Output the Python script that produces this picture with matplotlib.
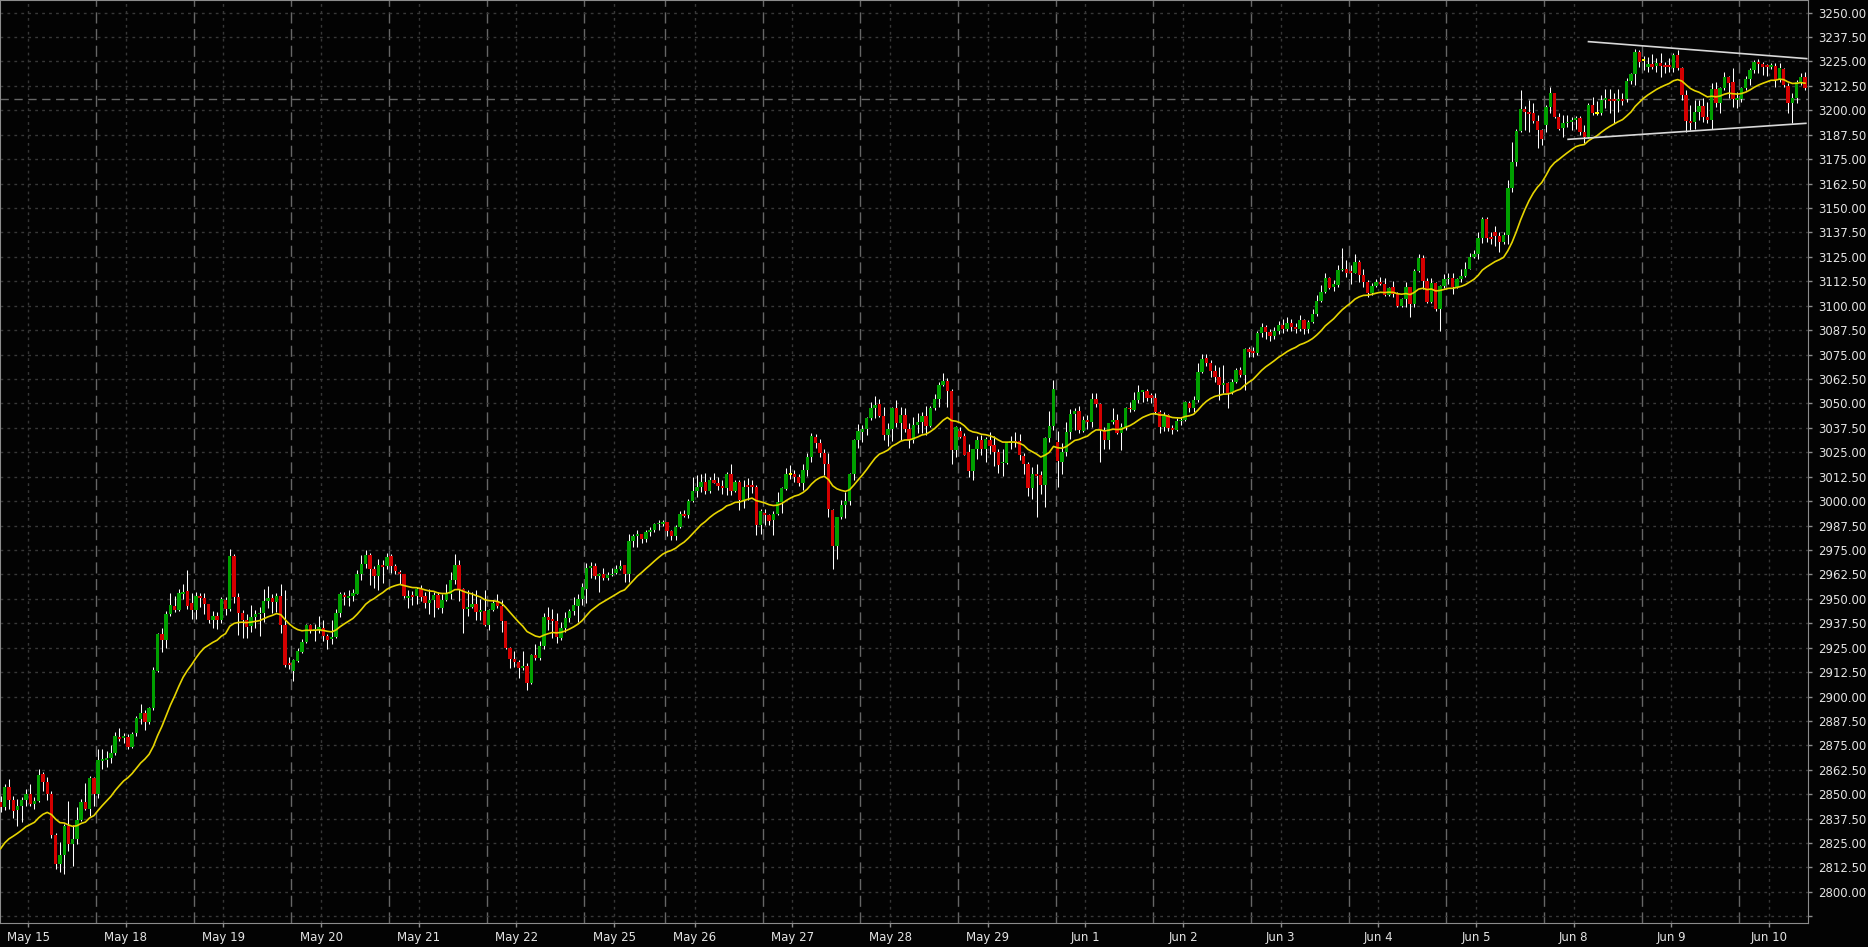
import matplotlib
matplotlib.use("Agg")
import matplotlib.pyplot as plt
import numpy as np
import pandas as pd

# hourly candles, sessions of 23 bars (May 25 short session, Jun 10 partial)
day_labels = ['May 15', 'May 18', 'May 19', 'May 20', 'May 21', 'May 22', 'May 25',
              'May 26', 'May 27', 'May 28', 'May 29', 'Jun 1', 'Jun 2', 'Jun 3',
              'Jun 4', 'Jun 5', 'Jun 8', 'Jun 9', 'Jun 10']
session_len = [23, 23, 23, 23, 23, 23, 19, 23, 23, 23, 23, 23, 23, 23, 23, 23, 23, 23, 16]

opens = [
    2846, 2843.5, 2853.5, 2847, 2842, 2844, 2847, 2850, 2845, 2846.5,
    2860.5, 2856, 2850, 2829, 2814.5, 2819, 2833.5, 2824.5, 2827, 2837,
    2846, 2842.5, 2858.5, 2850, 2867, 2867.5, 2868.5, 2871, 2879.5, 2879,
    2879.5, 2874, 2881.5, 2888.5, 2891.5, 2887, 2894, 2913, 2932, 2928.8,
    2942, 2946.5, 2944.5, 2952.5, 2953.8, 2947.8, 2944.5, 2951.3, 2950.6, 2947.2,
    2939.4, 2941, 2939.4, 2949.2, 2945, 2972, 2951, 2942.8, 2939, 2936,
    2940.7, 2942, 2942.6, 2948.7, 2950.6, 2948.4, 2951.3, 2936.5, 2917.2, 2913.1,
    2918.2, 2922.8, 2927.9, 2936.5, 2933.9, 2934, 2935, 2931, 2929.3, 2930.5,
    2942.9, 2951.8, 2950.5, 2951.3, 2952.7, 2962.6, 2968, 2972.3, 2965, 2961.7,
    2967.2, 2967, 2971.8, 2966.7, 2963.7, 2962.6, 2950.4, 2951.8, 2951.3, 2954.9,
    2951.3, 2947.9, 2949.2, 2951.8, 2945.5, 2949.6, 2952.7, 2959.8, 2967.2, 2955.2,
    2945, 2946, 2947.5, 2943.3, 2943.8, 2936.5, 2944.2, 2948.9, 2946.2, 2938.7,
    2924.9, 2919, 2917.7, 2914.6, 2915.5, 2907.1, 2921.1, 2919.9, 2925.7, 2940.7,
    2939.9, 2938.5, 2930, 2935.3, 2940.2, 2943.8, 2946.4, 2950.1, 2955, 2965.8,
    2966.9, 2961.6, 2962.9, 2960.7, 2962.1, 2963.3, 2965.1, 2967.2, 2962.6, 2979.5,
    2982, 2983.4, 2980.8, 2984.3, 2985.1, 2988.2, 2988.2, 2989.4, 2984.6, 2982,
    2986.5, 2993.6, 2992.8, 3000, 3005.1, 3007.3, 3009.8, 3005.1, 3010.7, 3009.5,
    3007.8, 3006.8, 3014.1, 3005.1, 3009.8, 3000.8, 3008.1, 3008.1, 3007.3, 2987.7,
    2994, 2992.8, 2990.2, 2993.6, 2999.6, 3006.4, 3013.8, 3013.8, 3012.4, 3009.3,
    3015.8, 3022.6, 3032.9, 3029.5, 3024.7, 3018.9, 2995.3, 2977.1, 2991.6, 2997.9,
    3000.1, 3014.1, 3031.2, 3035.4, 3037.1, 3042.3, 3047.7, 3049.6, 3043.5, 3033.7,
    3036.8, 3047.4, 3040, 3044, 3037.1, 3031.2, 3038.8, 3040.5, 3043.5, 3038.5,
    3047.7, 3052, 3059.3, 3061.4, 3056.4, 3026.1, 3036, 3033.2, 3025.2, 3015.3,
    3026.4, 3031.5, 3026.4, 3031.5, 3028.6, 3025.2, 3019.3, 3019.6, 3029.8, 3030.8,
    3030.8, 3023, 3018.9, 3006.8, 3013.8, 3013.3, 3008.1, 3032.4, 3038.3, 3030,
    3020.1, 3025.2, 3035.4, 3044.5, 3046, 3036, 3041.4, 3040.6, 3052, 3049.6,
    3036.3, 3031.2, 3040.6, 3041.7, 3034.9, 3038, 3047.7, 3046.4, 3051.7, 3055.9,
    3056.3, 3054.2, 3052.5, 3045.7, 3038, 3044, 3037.5, 3036.6, 3040.9, 3041.7,
    3050.3, 3047.4, 3051.7, 3066.1, 3073, 3070.4, 3066.7, 3063.6, 3059.3, 3060.5,
    3055.9, 3061, 3067, 3064.5, 3077.6, 3076.4, 3075.9, 3086, 3089, 3086.5,
    3084.5, 3087, 3090, 3088, 3091, 3089, 3087.8, 3092.9, 3088.3, 3091.7,
    3095.7, 3102.3, 3107, 3113.9, 3109.3, 3110.5, 3118.2, 3119, 3117.9, 3116.8,
    3122.4, 3115.6, 3112.2, 3106.3, 3110, 3112.2, 3111, 3105.4, 3109.3, 3105.9,
    3099.8, 3103.2, 3109.3, 3100.8, 3117.7, 3124.2, 3112.6, 3102, 3111.4, 3098.2,
    3110, 3113.4, 3113.9, 3109.3, 3113.4, 3115.1, 3119, 3124.7, 3126.4, 3134.8,
    3144.3, 3135.3, 3137.8, 3135.6, 3132.7, 3136.1, 3160, 3173.6, 3189.3, 3200.4,
    3199.2, 3198.4, 3194.5, 3189.9, 3192.4, 3201.5, 3208.6, 3196.7, 3190.7, 3193.3,
    3194.1, 3195, 3196.2, 3189, 3186.1, 3202.6, 3198.4, 3198.4, 3205.2, 3205.6,
    3205.6, 3204.9, 3205.6, 3205.6, 3214.9, 3218.3, 3229.6, 3225.5, 3222.3, 3223.5,
    3222.6, 3224, 3223.1, 3223.1, 3221.4, 3228.2, 3221.4, 3207.8, 3194.5, 3194.1,
    3199.2, 3202.1, 3196.7, 3195, 3210.7, 3203.8, 3211.2, 3216.8, 3214.6, 3205.4,
    3205.6, 3211.2, 3215.8, 3220.6, 3224.8, 3223.6, 3223.1, 3222.3, 3222.6, 3215.4,
    3220.9, 3212.4, 3203.8, 3206.1, 3214.6, 3217.2]

highs = [
    2849, 2855, 2858, 2849, 2847.5, 2848.5, 2852.5, 2855, 2848.5, 2863,
    2861.5, 2859, 2851.5, 2830, 2825.5, 2835, 2846.5, 2834.5, 2843.5, 2847.5,
    2855.5, 2859.5, 2859, 2873, 2873, 2872, 2875, 2882, 2884, 2881.5,
    2881, 2882, 2890, 2896, 2893, 2894.5, 2915, 2932.5, 2935, 2944,
    2953, 2951.5, 2955, 2957.5, 2964.6, 2953, 2953.5, 2953, 2953, 2947.5,
    2944, 2943, 2951, 2951, 2975.5, 2973, 2953, 2944.5, 2942, 2947,
    2944.5, 2946, 2955, 2956.4, 2952.7, 2953, 2957.8, 2954.4, 2920.2, 2919.4,
    2924.8, 2929.6, 2937, 2937, 2937.3, 2941, 2939.4, 2932.2, 2939, 2945,
    2953.5, 2953.5, 2954.4, 2955.2, 2964.6, 2972.3, 2975.2, 2973.5, 2966.7, 2970.6,
    2969.7, 2973.5, 2973.1, 2968, 2964.6, 2962.9, 2954.4, 2954, 2956, 2957,
    2953.5, 2955.2, 2953.5, 2953.5, 2952.7, 2957.8, 2963.8, 2973.1, 2970, 2955.5,
    2954.4, 2953.5, 2954.4, 2950, 2954.4, 2945, 2949.6, 2952.3, 2949.6, 2938.7,
    2925.4, 2923.3, 2918.5, 2923.1, 2916.9, 2921.6, 2926.8, 2928.5, 2942.5, 2945.9,
    2945, 2942.5, 2938.2, 2943, 2945, 2951, 2952.7, 2958, 2968.1, 2968.9,
    2968.1, 2963, 2965.5, 2963.8, 2965.5, 2967.2, 2969.8, 2967.2, 2983.4, 2983.4,
    2985.1, 2983.4, 2985.1, 2986.8, 2988.9, 2990.2, 2990.2, 2989.4, 2985.1, 2987.7,
    2995, 2995.4, 3001.3, 3012.4, 3013.3, 3013.8, 3014.5, 3012.4, 3014.5, 3012.4,
    3010.7, 3015, 3019.2, 3011, 3010.7, 3010.7, 3011.6, 3011, 3008, 2995.7,
    2996.2, 2993.6, 2994.8, 3004.7, 3007.3, 3016.7, 3018.4, 3015.8, 3014.1, 3019.2,
    3024.4, 3034.9, 3034.2, 3032, 3026.4, 3024.7, 2995.7, 2991.9, 3000.5, 3004.7,
    3014.4, 3032, 3039.4, 3038.8, 3043.1, 3050.8, 3053.7, 3052, 3048.2, 3039.7,
    3048, 3051.6, 3047.9, 3047.4, 3039.7, 3043.1, 3045.2, 3045.6, 3048.6, 3048.6,
    3055, 3061, 3065.3, 3063.2, 3057.6, 3038.5, 3038, 3034.9, 3029.1, 3026.9,
    3033.2, 3033.7, 3032.9, 3035.4, 3033.2, 3026.9, 3026.9, 3030.3, 3033.2, 3035.4,
    3034.2, 3024.4, 3020.1, 3017.5, 3019.2, 3015.5, 3032.9, 3046, 3061.9, 3036,
    3029.5, 3040.6, 3046.9, 3047.4, 3048.6, 3043.5, 3044, 3055.1, 3055.4, 3050,
    3038, 3040, 3047.4, 3044.8, 3040, 3048, 3050.8, 3055.9, 3059.3, 3056.8,
    3057.1, 3055.4, 3055.1, 3046.5, 3045.7, 3044.8, 3038.9, 3042.3, 3042.8, 3051.3,
    3051.3, 3053.7, 3070.4, 3075.2, 3075.2, 3072.1, 3069.6, 3068.7, 3069.6, 3061,
    3062.7, 3067.9, 3068.4, 3078.1, 3078.6, 3079, 3087, 3091, 3090, 3088,
    3089, 3092, 3093, 3094, 3093, 3091, 3095.2, 3093.4, 3092.9, 3098.1,
    3105.4, 3110.5, 3116.8, 3114.8, 3113.1, 3120.8, 3129.3, 3123.6, 3120.8, 3126.4,
    3123.3, 3118.5, 3113.1, 3111.4, 3113.4, 3114.8, 3114, 3109.7, 3112.6, 3107.1,
    3103.7, 3112.2, 3109.7, 3119, 3126.4, 3125.9, 3114, 3114, 3112.2, 3110.5,
    3116.1, 3116.8, 3116.5, 3114.4, 3118.5, 3122.4, 3126.7, 3128.4, 3137.5, 3145.5,
    3145.2, 3137.8, 3140.9, 3137.8, 3137.8, 3164.3, 3183.9, 3190.2, 3210.3, 3202.1,
    3205.2, 3203.9, 3197.5, 3190.2, 3202.7, 3211.7, 3209, 3198.4, 3197.5, 3197.5,
    3196.7, 3197, 3197, 3192.4, 3203.5, 3206.9, 3204.7, 3207.8, 3210.7, 3210.7,
    3208.6, 3210.7, 3208.6, 3216.3, 3218.9, 3231.1, 3230.8, 3228, 3227.4, 3228.8,
    3226.5, 3229.1, 3224.8, 3226.5, 3229.1, 3230.8, 3222.3, 3210.3, 3202.6, 3205.2,
    3205.2, 3206.1, 3204.4, 3214.1, 3214.6, 3212, 3219.7, 3217.5, 3221.4, 3209.5,
    3212, 3217.5, 3221.4, 3225.7, 3226, 3224.8, 3223.9, 3224.3, 3224.3, 3224.3,
    3221.4, 3213.7, 3208.6, 3215.4, 3218.9, 3219.7]

lows = [
    2841, 2842, 2842.5, 2838, 2833.5, 2836, 2844, 2844, 2842.5, 2846,
    2851.5, 2847, 2827.5, 2811.5, 2810, 2809, 2821, 2813.5, 2824.5, 2836.5,
    2842, 2839, 2844, 2848, 2863, 2864, 2866, 2870, 2877, 2876,
    2873, 2873.5, 2880, 2886, 2883, 2886, 2893, 2912.5, 2923, 2925,
    2941, 2943, 2943.5, 2950, 2945, 2939.5, 2939.7, 2946, 2942, 2937.5,
    2935, 2934.5, 2937.5, 2941.5, 2944, 2948, 2931.5, 2930, 2929.8, 2933,
    2935, 2931, 2938, 2945.3, 2942.8, 2943.3, 2932.7, 2915.1, 2914.3, 2908,
    2917.7, 2922.3, 2927.4, 2932.5, 2928.4, 2932.7, 2928.4, 2924.2, 2927, 2930.1,
    2940.7, 2947, 2946.2, 2949, 2952.3, 2959.5, 2965.5, 2957.3, 2955.6, 2954.4,
    2958.1, 2965, 2963.2, 2962.9, 2957.8, 2950.6, 2945.3, 2947, 2947.5, 2948.9,
    2945.5, 2942.4, 2940.7, 2945, 2942.8, 2949, 2950.1, 2957.5, 2949, 2932.5,
    2941, 2945.5, 2939.4, 2939, 2936, 2933.9, 2943.5, 2945.5, 2933, 2924.5,
    2914.6, 2915.1, 2909.5, 2913.4, 2903.2, 2906.6, 2918.9, 2918.9, 2924.5, 2933.9,
    2929.7, 2927.4, 2928.8, 2933.1, 2938.2, 2941.6, 2938.2, 2947, 2948, 2960.4,
    2959.9, 2953.6, 2959.8, 2959.5, 2961.6, 2962.6, 2964.6, 2958.7, 2958.7, 2976.6,
    2976.3, 2978.3, 2979.1, 2982, 2984.3, 2985.1, 2987.5, 2982, 2980, 2980,
    2986, 2992, 2991.1, 2999.6, 3002.2, 3004.7, 3003.4, 3003.9, 3009, 3005.9,
    3003.4, 3003, 3003, 3004.5, 2995.3, 2996.7, 3000.5, 3004, 2982.6, 2983.4,
    2988, 2987.7, 2982.6, 2993, 2994, 3005.6, 3011.5, 3009.8, 3007.6, 3005.6,
    3012.7, 3020.1, 3027.4, 3022.6, 3013.3, 2991.9, 2965, 2970.6, 2990.9, 2991.1,
    2997.9, 3010.7, 3027.4, 3030.3, 3033.7, 3041.7, 3042.3, 3043, 3031.2, 3028.1,
    3030.8, 3038, 3031.2, 3035.4, 3027.4, 3029.5, 3034.9, 3034.9, 3033.7, 3038,
    3046.7, 3048.2, 3058.8, 3048.2, 3019.2, 3022.6, 3032.5, 3023.5, 3012.1, 3011,
    3021.3, 3023.5, 3020.1, 3024.3, 3017.9, 3014.5, 3012.7, 3019, 3026.9, 3027.7,
    3020.9, 3014.1, 3002.5, 3001.3, 2991.6, 3003.5, 2997.1, 3030.3, 3036.3, 3007.3,
    3014.1, 3023, 3032, 3036.3, 3035, 3035.4, 3037.1, 3038, 3047.9, 3020.1,
    3026.9, 3026.4, 3039.4, 3034.2, 3026.1, 3036.3, 3045.7, 3046, 3050.3, 3050.8,
    3051.3, 3050, 3044.8, 3034.6, 3036, 3036, 3034.2, 3036, 3038.9, 3041,
    3045.7, 3045.7, 3050.8, 3065.3, 3069.1, 3063.6, 3061, 3051.7, 3055.4, 3047.4,
    3054.7, 3060.2, 3063.6, 3056.8, 3073.8, 3073.8, 3075, 3084, 3083, 3082,
    3083, 3085.5, 3086, 3087, 3087, 3086, 3087.1, 3085.4, 3086.1, 3091.2,
    3094.6, 3102, 3106.3, 3108.3, 3107.6, 3109.3, 3117.9, 3114.8, 3111, 3116.5,
    3112.2, 3109.7, 3104.5, 3105.4, 3109.3, 3110.5, 3104.9, 3104.9, 3104.5, 3099.1,
    3099.4, 3099.4, 3094, 3099.4, 3117.3, 3108.3, 3101.5, 3101.5, 3097.5, 3087.1,
    3108.8, 3111, 3105.9, 3108.8, 3112.2, 3114.8, 3118.5, 3124.2, 3123.7, 3132.2,
    3132.7, 3131.8, 3130.6, 3127.6, 3131.5, 3131.8, 3158.3, 3171.4, 3189, 3189.9,
    3189, 3193.3, 3180.8, 3182.2, 3189, 3198.4, 3195.8, 3189.9, 3186.1, 3191.2,
    3189.9, 3190.2, 3187.3, 3183, 3185.6, 3197.5, 3197.5, 3197.5, 3200.9, 3198.4,
    3193.3, 3199.2, 3202.6, 3204.4, 3213.2, 3212.9, 3222, 3220.6, 3219.7, 3220.9,
    3219.7, 3216.8, 3219.2, 3219.7, 3219.7, 3220.6, 3205.2, 3189, 3189.9, 3190.2,
    3195, 3194.1, 3193.6, 3190.2, 3201.8, 3198.7, 3210.3, 3206.1, 3201.8, 3200.9,
    3204.4, 3210.3, 3212.9, 3218.9, 3218.9, 3218, 3217.5, 3220.9, 3212, 3214.6,
    3212, 3198.4, 3193.3, 3203.5, 3212.9, 3210.3]

closes = [
    2843.5, 2853.5, 2847, 2841.5, 2844, 2847, 2850, 2845, 2846.5, 2860,
    2856.5, 2850, 2829, 2814.5, 2819, 2833.5, 2824.5, 2827, 2837, 2846,
    2842.5, 2858.5, 2850, 2867.4, 2868, 2868.5, 2871, 2880, 2878.5, 2879.5,
    2874, 2881, 2889, 2891.5, 2887, 2894, 2913.4, 2932, 2928.8, 2942,
    2947, 2944.5, 2953, 2953.5, 2946.2, 2944.5, 2951.3, 2950.3, 2947.5, 2939.4,
    2941, 2939.4, 2950, 2945, 2972, 2951, 2942.8, 2939, 2935.6, 2940.7,
    2942, 2942.5, 2948.7, 2950.4, 2948.4, 2951.3, 2936.5, 2916, 2916, 2918.5,
    2923.1, 2927.9, 2936.5, 2933.4, 2934.6, 2935.8, 2931, 2929.1, 2930.5, 2942.9,
    2952.2, 2951, 2951.5, 2953, 2962.6, 2968, 2972.3, 2965, 2961.7, 2967.2,
    2966.3, 2971.4, 2966.7, 2964.1, 2962.9, 2951.3, 2951.3, 2951, 2954.9, 2951,
    2947.9, 2949.2, 2951.8, 2945.5, 2949.6, 2952.7, 2959.8, 2967.2, 2955.2, 2945,
    2945.9, 2947.5, 2943.3, 2944.3, 2936.5, 2944.2, 2947.9, 2946.2, 2938.7, 2924.9,
    2919, 2917.7, 2914.6, 2915.6, 2907.1, 2921.1, 2919.9, 2925.7, 2940.7, 2939.4,
    2938.5, 2930.5, 2935.3, 2940.2, 2943.8, 2946.7, 2950.1, 2956.1, 2965.8, 2966.9,
    2961.6, 2962.9, 2960.7, 2962.1, 2962.9, 2965.1, 2966.7, 2962.6, 2979.5, 2982,
    2983.4, 2980.5, 2984.3, 2985.1, 2988.2, 2988.9, 2989.4, 2984.6, 2982, 2986.5,
    2993.6, 2992.5, 3000, 3005.1, 3007.3, 3009.8, 3005.1, 3010.7, 3009.3, 3007.8,
    3006.8, 3014.1, 3005.1, 3009.8, 3000.8, 3007.3, 3007.3, 3007.3, 2987.7, 2994.8,
    2993.1, 2989.7, 2993.6, 2999.6, 3006.8, 3013.8, 3013.8, 3012.4, 3009.3, 3015.8,
    3022.6, 3033.2, 3029.5, 3024.7, 3018.9, 2995.7, 2977.1, 2991.6, 2997.9, 3000.1,
    3014.1, 3031.2, 3035.8, 3037.1, 3042.3, 3047.7, 3049.1, 3043.5, 3033.7, 3036.8,
    3047.4, 3040, 3044, 3037.1, 3031.2, 3038.8, 3040.5, 3043.5, 3038.5, 3047.7,
    3052, 3059.3, 3061.4, 3056.4, 3026.1, 3038, 3032.9, 3023.8, 3015.3, 3026.4,
    3031.5, 3026.4, 3031.7, 3028.1, 3025.2, 3018.7, 3019.6, 3029.8, 3030.8, 3029.8,
    3023.5, 3018.9, 3006.8, 3013.8, 3012.9, 3008.1, 3032.4, 3038.3, 3057.1, 3020.6,
    3025.2, 3035.4, 3044.5, 3046, 3036.3, 3041.4, 3040.6, 3052, 3049.6, 3036.3,
    3031.2, 3039.7, 3041.7, 3034.9, 3038, 3047.4, 3046.9, 3051.7, 3055.9, 3056.3,
    3052.5, 3052.5, 3045.7, 3038, 3044, 3037.5, 3036.6, 3040.9, 3041.4, 3050.8,
    3047.4, 3051.7, 3066.1, 3072.5, 3070.4, 3066.7, 3063.6, 3059.3, 3060.5, 3055.4,
    3061, 3067, 3064.5, 3077.6, 3076.4, 3075.9, 3086.1, 3089, 3086.5, 3084.5,
    3087, 3090, 3088, 3091, 3089, 3087.8, 3092.9, 3088.3, 3091.7, 3095.7,
    3102.3, 3107.1, 3113.9, 3108.8, 3111, 3118.2, 3119, 3116.8, 3116.8, 3122.4,
    3115.6, 3112.2, 3106.3, 3110, 3112.2, 3111, 3105.4, 3108.8, 3105.9, 3099.8,
    3103.2, 3109.3, 3100.8, 3117.7, 3124.2, 3112.6, 3102, 3111.4, 3098.2, 3110,
    3113.4, 3113.9, 3109.3, 3113.4, 3115.1, 3119, 3124.7, 3126.4, 3134.8, 3144.3,
    3134.8, 3134.2, 3135.6, 3132.7, 3136.1, 3160, 3173.6, 3189.3, 3200.4, 3199.2,
    3198, 3194.5, 3189.9, 3185.1, 3201.5, 3208.6, 3196.7, 3190.2, 3193.3, 3194.1,
    3195, 3195.8, 3189, 3186.1, 3202.6, 3198.7, 3198.4, 3205.2, 3205.6, 3204.9,
    3204.9, 3205.6, 3204.9, 3214.9, 3218.3, 3229.6, 3224.5, 3225.5, 3223.5, 3222.3,
    3224.3, 3222.6, 3222.3, 3222.3, 3228.2, 3221.4, 3207.8, 3194.5, 3193.6, 3199.2,
    3202.1, 3196.7, 3195, 3210.7, 3203.8, 3211.2, 3216.8, 3214.1, 3205.6, 3206.5,
    3211.2, 3215.8, 3220.6, 3224.8, 3223.6, 3222.3, 3221.9, 3223.1, 3215.4, 3221.4,
    3212.9, 3203.8, 3206.1, 3214.6, 3217.2, 3211.2]

ma_start = 2822.1          # moving average value at the first bar
ma_span = 20
ref_price = 3205.6         # dashed horizontal line
upper_line = ([374.0, 425.4], [3235.1, 3226.4])
lower_line = ([369.2, 425.2], [3185.1, 3193.3])

BG = '#030303'
GREEN = '#00a000'
RED = '#d40000'
DOJI = '#ffff00'
MA_COL = '#e6d400'
GRID = '#383838'
DASH = '#666666'
TXT = '#e4e4e4'
SPINE = '#8c8c8c'

o = np.array(opens, float)
h = np.array(highs, float)
l = np.array(lows, float)
c = np.array(closes, float)
x = np.arange(len(c))

ma = pd.Series(np.r_[ma_start, c[1:]]).ewm(span=ma_span, adjust=False).mean().values

fig = plt.figure(figsize=(18.68, 9.47), dpi=100, facecolor=BG)
ax = fig.add_axes([0, 24 / 947, 1808 / 1868, 923 / 947], facecolor=BG)

# session boundaries and label positions
starts = np.cumsum([0] + session_len[:-1])
label_pos = starts + 6.5
for s in starts[1:]:
    ax.axvline(s - 0.5, color=DASH, lw=1, ls=(0, (8, 4)), zorder=1)
for p in label_pos:
    ax.axvline(p, color=GRID, lw=1, ls=(0, (2, 3)), zorder=1)

yt = np.arange(2787.5, 3250.1, 12.5)
for y in yt:
    ax.axhline(y, color=GRID, lw=1, ls=(0, (2, 3)), zorder=1)
ax.axhline(ref_price, color=DASH, lw=1, ls=(0, (6, 4)), zorder=1)

# candles
ax.vlines(x, l, h, color='white', lw=0.75, zorder=2)
up = c > o
dn = c < o
fl = c == o
w = 0.8
ax.bar(x[up], np.maximum(c[up] - o[up], 0.8), bottom=o[up], width=w,
       color=GREEN, linewidth=0, zorder=3)
ax.bar(x[dn], np.maximum(o[dn] - c[dn], 0.8), bottom=c[dn], width=w,
       color=RED, linewidth=0, zorder=3)
ax.bar(x[fl], 1.0, bottom=o[fl] - 0.5, width=w, color=DOJI, linewidth=0, zorder=3)

ax.plot(x, ma, color=MA_COL, lw=1.2, zorder=4)
ax.plot(*upper_line, color='#d8d8d8', lw=1.2, zorder=4)
ax.plot(*lower_line, color='#d8d8d8', lw=1.2, zorder=4)

ax.set_xlim(-0.12, 425.7)
ax.set_ylim(2784.1, 3256.4)

ax.yaxis.tick_right()
ax.set_yticks(yt)
ax.set_yticklabels([''] + ['%.2f' % v for v in yt[1:]])
ax.set_xticks(label_pos)
ax.set_xticklabels(day_labels)
ax.tick_params(colors=SPINE, labelcolor=TXT, labelsize=8.5, length=3, width=1)
ax.tick_params(axis='y', pad=4)
ax.tick_params(axis='x', pad=3)
for sp in ax.spines.values():
    sp.set_color(SPINE)

fig.savefig('out.png', dpi=100, facecolor=BG)
